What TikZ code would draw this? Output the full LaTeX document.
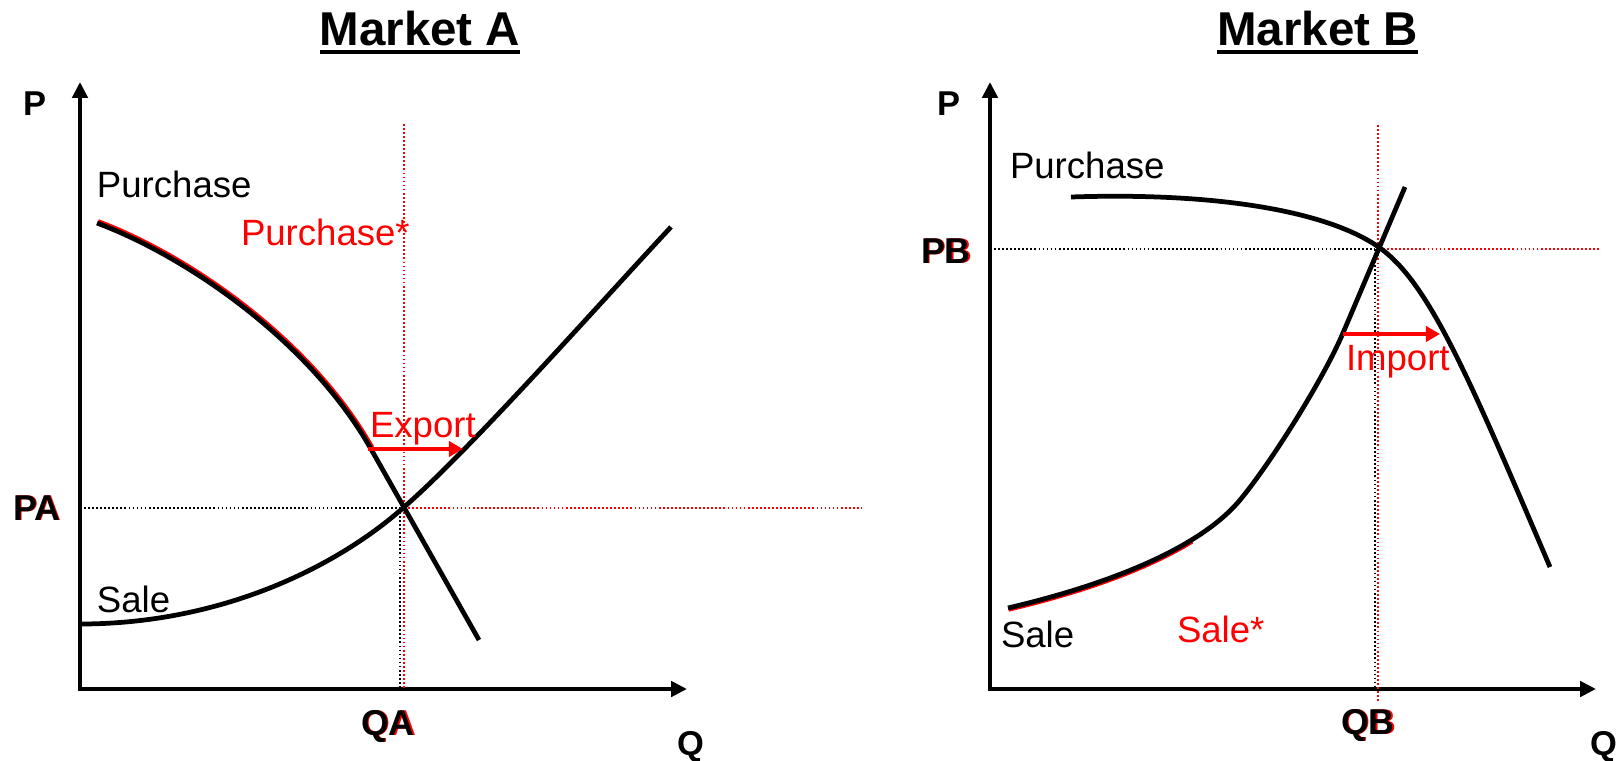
\documentclass[tikz,border=0pt]{standalone}
\usepackage{fontspec}
\setmainfont{Liberation Sans}
\usepackage{tikz}
\usetikzlibrary{arrows.meta,positioning}
\definecolor{ShiftRed}{RGB}{255,0,0}
\newcommand{\redshadow}[1]{\makebox[0pt][l]{\kern0.45pt\textcolor{ShiftRed}{#1}}#1}

\begin{document}
\begin{tikzpicture}[
        x=0.01cm, y=-0.01cm,
        every node/.style={inner sep=0pt, outer sep=0pt},
        heading/.style={font=\fontsize{13.5}{16}\selectfont\bfseries, anchor=base},
        axislabel/.style={font=\fontsize{9.8}{11}\selectfont\bfseries, anchor=base west},
        eqlabel/.style={font=\fontsize{10.2}{12}\selectfont\bfseries, anchor=base west},
        curvelabel/.style={font=\fontsize{10.4}{12.5}\selectfont, anchor=base west},
        shiftlabel/.style={curvelabel, text=ShiftRed},
        axis/.style={line width=1.35pt, {Triangle[length=4.5pt,width=4.3pt]}-{Triangle[length=4.5pt,width=4.3pt]}},
        curve/.style={line width=1.35pt},
        ghost/.style={line width=1.35pt, ShiftRed},
        guide/.style={line width=0.45pt, dash pattern=on 0.5pt off 0.65pt},
        flow/.style={ShiftRed, line width=1.15pt, -{Triangle[length=4pt,width=4.3pt]}}
    ]
    \useasboundingbox (0,0) rectangle (1623,760);

    % Market A
    \node[heading] (titleA) at (420,45) {Market A};
    \draw[line width=1.15pt] ([yshift=-2pt]titleA.base west) -- ([yshift=-2pt]titleA.base east);

    \coordinate (oA) at (80,689);
    \coordinate (topA) at (80,82);
    \coordinate (endA) at (687,689);
    \draw[axis] (topA) -- (oA) -- (endA);

    \draw[guide] (80,508) -- (400,508);
    \draw[guide, ShiftRed] (404,508) -- (862,508);
    \draw[guide, ShiftRed] (404,124) -- (404,689);
    \draw[guide] (400,508) -- (400,689);

    \draw[ghost, shift={(1,-1.5)}] (97,223) .. controls (190,258) and (311,343) .. (371,449);
    \draw[curve] (97,223) .. controls (190,258) and (311,343) .. (371,449) -- (479,640);
    \draw[curve] (80,624) .. controls (220,624) and (335,568) .. (403,508)
        .. controls (470,450) and (600,303) .. (671,227);

    \coordinate (exportFrom) at (368,449);
    \coordinate (exportTo) at (463,449);
    \draw[flow] (exportFrom) -- (exportTo);

    \node[axislabel] (pA) at (23,115) {P};
    \node[axislabel] (qA) at (677,755) {Q};
    \node[eqlabel] (priceA) at (13,520) {\redshadow{PA}};
    \node[eqlabel] (quantA) at (361,735) {\redshadow{QA}};
    \node[curvelabel] (purchaseA) at (97,197) {Purchase};
    \node[shiftlabel] (purchaseStar) at (241,245) {Purchase*};
    \node[curvelabel] (saleA) at (97,612) {Sale};
    \node[shiftlabel] (export) at (370,437) {Export};

    % Market B
    \node[heading] (titleB) at (1317.5,45) {Market B};
    \draw[line width=1.15pt] ([yshift=-2pt]titleB.base west) -- ([yshift=-2pt]titleB.base east);

    \coordinate (oB) at (990,689);
    \coordinate (topB) at (990,82);
    \coordinate (endB) at (1596,689);
    \draw[axis] (topB) -- (oB) -- (endB);

    \draw[guide] (990,249) -- (1375,249);
    \draw[guide, ShiftRed] (1379,249) -- (1599,249);
    \draw[guide, ShiftRed] (1378,125) -- (1378,703);
    \draw[guide] (1375,249) -- (1375,689);

    \draw[curve] (1071,197) .. controls (1220,192) and (1330,212) .. (1380,248)
        .. controls (1430,284) and (1470,380) .. (1550,567);
    \draw[ghost, shift={(0.5,1.3)}] (1008,608) .. controls (1079.4,591.2) and (1144.9,568.6) .. (1191.5,540);
    \draw[curve] (1008,608) .. controls (1110,584) and (1200,548) .. (1240,500)
        .. controls (1270,464) and (1323,380) .. (1343,333) -- (1405,187);

    \coordinate (importFrom) at (1343,334);
    \coordinate (importTo) at (1440,334);
    \draw[flow] (importFrom) -- (importTo);

    \node[axislabel] (pB) at (937,115) {P};
    \node[axislabel] (qB) at (1590,755) {Q};
    \node[eqlabel] (priceB) at (921,263) {\redshadow{PB}};
    \node[eqlabel] (quantB) at (1341,734) {\redshadow{QB}};
    \node[curvelabel] (purchaseB) at (1010,178) {Purchase};
    \node[curvelabel] (saleB) at (1001,647) {Sale};
    \node[shiftlabel] (saleStar) at (1177,642) {Sale*};
    \node[shiftlabel] (import) at (1346,370) {Import};
\end{tikzpicture}
\end{document}
